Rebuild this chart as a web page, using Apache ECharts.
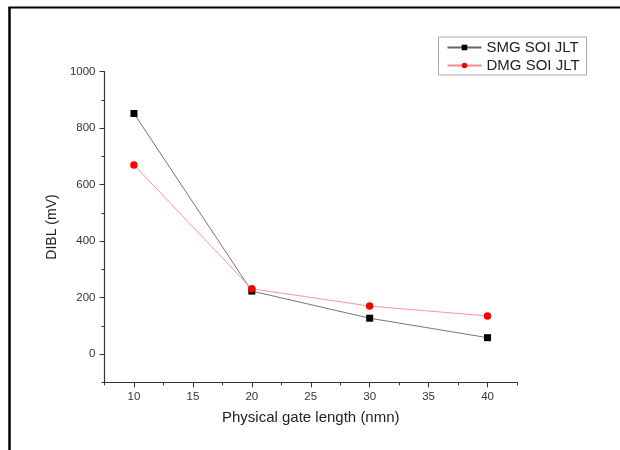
<!DOCTYPE html>
<html>
<head>
<meta charset="utf-8"/>
<title>DIBL</title>
<script src="https://cdn.jsdelivr.net/npm/echarts@6/dist/echarts.min.js"></script>
<style>
  html, body { margin: 0; padding: 0; background: #fff; }
</style>
</head>
<body>
<div id="main" style="width: 620px;height:450px;"></div>
<script type="text/javascript">
    // data
    var gateLength = [10, 20, 30, 40];
    var smgDibl = [852, 223, 127, 58];
    var dmgDibl = [670, 231, 170, 135];
    var seriesNames = ['SMG SOI JLT', 'DMG SOI JLT'];
    var xMajor = [10, 15, 20, 25, 30, 35, 40];
    var xMinor = [7.5, 12.5, 17.5, 22.5, 27.5, 32.5, 37.5, 42.5];
    var yMajor = [0, 200, 400, 600, 800, 1000];
    var yMinor = [-100, 100, 300, 500, 700, 900];

    function pairs(xs, ys) {
        return xs.map(function (x, i) { return [x, ys[i]]; });
    }

    var axisColor = '#333';
    var font = 'Liberation Sans, Arial, sans-serif';

    var dom = document.getElementById('main');
    var myChart = echarts.init(dom);
    var option = {
        backgroundColor: '#fff',
        animation: false,
        textStyle: { fontFamily: font },
        grid: { left: 104.5, right: 103, top: 71.7, bottom: 67.7 },
        legend: {
            orient: 'vertical',
            left: 438.5,
            top: 37,
            itemWidth: 34,
            itemHeight: 7,
            itemGap: 3,
            padding: [3, 7, 2, 8],
            borderColor: '#aaa',
            borderWidth: 1,
            textStyle: { fontSize: 15, color: '#222', fontFamily: font },
            data: seriesNames
        },
        xAxis: [{
            type: 'value',
            min: 7.5,
            max: 42.5,
            name: 'Physical gate length (nmn)',
            nameLocation: 'middle',
            nameGap: 28,
            nameTextStyle: { fontSize: 15, color: '#222', fontFamily: font },
            splitLine: { show: false },
            axisLine: { onZero: false, lineStyle: { color: axisColor, width: 1.2 } },
            axisTick: { customValues: xMajor, length: 5, lineStyle: { color: axisColor } },
            axisLabel: { customValues: xMajor, margin: 9, fontSize: 11.5, color: '#333' }
        }, {
            type: 'value',
            min: 7.5,
            max: 42.5,
            position: 'bottom',
            splitLine: { show: false },
            axisLine: { show: false, onZero: false },
            axisTick: { customValues: xMinor, length: 3, lineStyle: { color: axisColor } },
            axisLabel: { show: false }
        }],
        yAxis: [{
            type: 'value',
            min: -100,
            max: 1000,
            name: 'DIBL (mV)',
            nameLocation: 'middle',
            nameGap: 44,
            nameTextStyle: { fontSize: 14, color: '#222', fontFamily: font },
            splitLine: { show: false },
            axisLine: { show: true, onZero: false, lineStyle: { color: axisColor, width: 1.2 } },
            axisTick: { show: true, customValues: yMajor, length: 5, lineStyle: { color: axisColor } },
            axisLabel: {
                customValues: yMajor, margin: 9, fontSize: 11.5, color: '#333',
                formatter: function (v) { return String(v); }
            }
        }, {
            type: 'value',
            min: -100,
            max: 1000,
            position: 'left',
            splitLine: { show: false },
            axisLine: { show: false, onZero: false },
            axisTick: { show: true, customValues: yMinor, length: 3, lineStyle: { color: axisColor } },
            axisLabel: { show: false }
        }],
        graphic: [
            { type: 'line', shape: { x1: 9.5, y1: 7.5, x2: 9.5, y2: 450 }, style: { stroke: '#000', lineWidth: 2.5 } },
            { type: 'line', shape: { x1: 8.3, y1: 7.5, x2: 620, y2: 7.5 }, style: { stroke: '#000', lineWidth: 2 } }
        ],
        series: [{
            name: seriesNames[0],
            type: 'line',
            data: pairs(gateLength, smgDibl),
            symbol: 'rect',
            symbolSize: 7,
            lineStyle: { color: '#666', width: 0.9 },
            itemStyle: { color: '#000' }
        }, {
            name: seriesNames[1],
            type: 'line',
            data: pairs(gateLength, dmgDibl),
            symbol: 'circle',
            symbolSize: 7.5,
            lineStyle: { color: '#f08c8c', width: 0.9 },
            itemStyle: { color: '#f00' }
        }]
    };
    myChart.setOption(option);
</script>
</body>
</html>
